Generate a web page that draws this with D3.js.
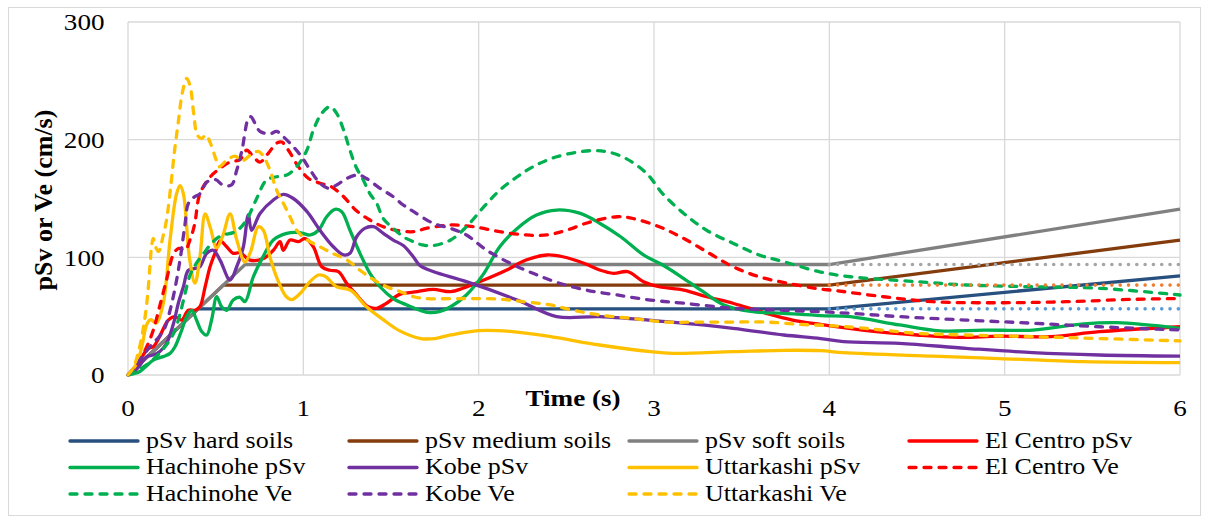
<!DOCTYPE html>
<html>
<head>
<meta charset="utf-8">
<script src="https://cdn.jsdelivr.net/npm/d3@7"></script>
<style>
  html, body { margin: 0; padding: 0; background: #fff; }
  svg { display: block; }
  text { font-family: 'Liberation Serif', 'DejaVu Serif', serif; }
</style>
</head>
<body>
<svg id="chart" width="1210" height="523"></svg>
<script>
// ---- Data: each point is [period T (s), velocity (cm/s)] ----

// Design pseudo-spectral velocity for the three soil classes
const hardSoils   = [[0, 0], [0.4, 56.2], [4, 56.2], [6, 84.3]];
const mediumSoils = [[0, 0], [0.544, 76.4], [4, 76.4], [6, 114.6]];
const softSoils   = [[0, 0], [0.668, 93.9], [4, 93.9], [6, 140.9]];

// Plateau levels continued beyond 4 s
const hardPlateau   = [[4, 56.2], [6, 56.2]];
const mediumPlateau = [[4, 76.4], [6, 76.4]];
const softPlateau   = [[4, 93.9], [6, 93.9]];

const elCentroPsv = [[0,0],[0.04,6],[0.068,12.7],[0.116,22.7],[0.144,24],[0.18,32.6],[0.23,46.7],[0.268,49.6],[0.306,46.7],[0.344,55],[0.382,55],[0.41,58],[0.44,75],[0.468,92],[0.496,103.4],[0.525,114],[0.563,109],[0.6,103.4],[0.639,104],[0.696,97.7],[0.772,99],[0.829,106],[0.867,113.3],[0.886,106],[0.924,114.7],[0.972,113.3],[1.01,116],[1.057,109],[1.105,92],[1.152,89],[1.2,87.8],[1.247,78],[1.304,68],[1.37,58],[1.418,56.7],[1.475,61],[1.55,68.5],[1.65,70.8],[1.74,72.8],[1.84,70.8],[1.91,73.7],[2.03,80.7],[2.16,89.2],[2.27,97.7],[2.39,102],[2.48,100.5],[2.6,95],[2.69,89.2],[2.77,86.4],[2.85,87.8],[2.94,79.3],[3.03,75],[3.17,72.2],[3.3,66.5],[3.45,61],[3.64,52.4],[3.79,46.7],[3.95,43],[4.2,38],[4.5,34],[4.74,32],[4.97,33],[5.26,32.6],[5.54,36.8],[6,41]];

const hachinohePsv = [[0,0],[0.068,3],[0.1,7],[0.144,12.7],[0.2,15.6],[0.24,18.4],[0.268,24],[0.306,38],[0.335,49.6],[0.363,55],[0.39,47],[0.42,37],[0.449,34],[0.477,47],[0.506,66.5],[0.534,58],[0.563,55],[0.6,63.7],[0.639,66],[0.667,62.3],[0.715,83.5],[0.772,101],[0.829,114.7],[0.905,120.4],[0.98,121],[1.04,119],[1.086,123],[1.133,134.5],[1.18,140.8],[1.219,138.8],[1.266,123],[1.323,103.4],[1.38,86.4],[1.437,75],[1.513,65],[1.59,59.5],[1.665,55],[1.72,53],[1.78,54],[1.84,58],[1.93,68],[2.03,86.4],[2.12,109],[2.22,124.6],[2.33,136],[2.445,140.2],[2.58,137.3],[2.69,129],[2.81,117.5],[2.94,102],[3.05,93.5],[3.17,82],[3.28,70.8],[3.4,59.5],[3.55,54],[3.74,52.4],[3.95,50.5],[4.12,49.6],[4.4,42.5],[4.63,37.5],[4.88,38.2],[5.16,38.2],[5.45,43.5],[5.64,44.5],[6,39.7]];

const kobePsv = [[0,0],[0.05,5],[0.107,15.6],[0.144,17],[0.18,19.8],[0.22,27],[0.26,44],[0.287,61],[0.316,75],[0.344,89],[0.382,90.6],[0.41,92],[0.449,103.4],[0.487,106],[0.525,97.7],[0.582,80.7],[0.62,92],[0.658,109],[0.686,136],[0.705,123],[0.753,137.3],[0.829,148.7],[0.886,153.5],[0.943,150],[1.02,139],[1.095,123],[1.171,109],[1.23,102],[1.266,103.4],[1.304,117.5],[1.35,124.6],[1.4,126],[1.456,120.4],[1.513,114.7],[1.57,110],[1.627,100.5],[1.665,93],[1.74,88],[1.93,79.3],[2.22,63.7],[2.445,49.6],[2.69,49.6],[3.07,45.3],[3.45,39.7],[3.74,34],[3.95,31],[4.08,28.3],[4.4,26.9],[4.78,22.7],[5.16,19],[5.54,17],[6,16]];

const uttarkashiPsv = [[0,0],[0.05,10],[0.08,25],[0.107,43],[0.13,47],[0.16,44],[0.2,60],[0.24,115],[0.277,154],[0.297,161],[0.316,154],[0.35,100],[0.382,78],[0.41,100],[0.44,137],[0.47,125],[0.506,108],[0.54,118],[0.582,137],[0.62,115],[0.667,96],[0.7,105],[0.743,126],[0.772,123],[0.81,100],[0.848,83],[0.9,67],[0.934,64],[0.98,69],[1.03,78],[1.086,85],[1.124,84],[1.19,75],[1.27,72],[1.36,58],[1.456,47],[1.55,37.5],[1.67,31],[1.75,31],[1.84,34],[2.0,37.7],[2.18,37],[2.41,32.6],[2.69,25.5],[2.98,19.8],[3.11,18.4],[3.45,19.8],[3.74,21],[3.95,20.7],[4.08,19],[4.59,16],[4.97,14],[5.45,11.3],[6,10.5]];

const elCentroVe = [[0,0],[0.05,8],[0.107,24],[0.144,38],[0.18,58],[0.22,81],[0.26,103],[0.29,107.6],[0.325,106],[0.354,115],[0.38,128],[0.41,154],[0.47,168.5],[0.525,175.6],[0.582,181],[0.639,183],[0.677,191],[0.715,185.5],[0.753,181],[0.8,188.4],[0.848,197],[0.877,198],[0.915,191],[0.972,177],[1.03,167],[1.095,163],[1.16,160],[1.23,151.5],[1.3,140],[1.38,131.7],[1.456,126],[1.53,123],[1.63,121.8],[1.7,124.6],[1.84,127.5],[1.97,126],[2.12,121.8],[2.27,119],[2.39,119],[2.5,123],[2.635,130],[2.79,134.5],[2.88,133],[3.03,126],[3.17,116],[3.32,103],[3.45,92],[3.6,83.5],[3.76,78],[3.95,73],[4.02,72],[4.31,66.5],[4.59,62.3],[4.97,61.4],[5.35,62.3],[5.73,64.3],[6,65]];

const hachinoheVe = [[0,0],[0.08,6],[0.15,14],[0.2,22],[0.24,30],[0.268,38],[0.297,52],[0.325,69],[0.354,85],[0.39,95],[0.43,103],[0.49,114],[0.54,119],[0.6,121],[0.64,125],[0.677,132],[0.73,148.7],[0.79,165.7],[0.848,168.5],[0.905,170],[0.962,177],[1.02,191],[1.057,208],[1.105,222.4],[1.152,228],[1.19,222.4],[1.23,208],[1.266,191],[1.3,177],[1.342,165.7],[1.38,154],[1.418,146],[1.456,133],[1.513,124.6],[1.57,117.5],[1.627,113.3],[1.68,110.5],[1.74,110],[1.84,114.7],[1.93,126],[2.03,143],[2.12,157],[2.22,168.5],[2.31,177],[2.445,185.5],[2.635,190.6],[2.73,189.8],[2.84,184],[2.96,171],[3.05,154],[3.17,137.3],[3.3,123],[3.45,112],[3.6,102],[3.74,96.3],[3.95,87.5],[4.12,83.5],[4.5,79.3],[4.78,76.5],[5.16,75],[5.54,73.7],[6,68]];

const kobeVe = [[0,0],[0.04,7],[0.08,15],[0.125,24],[0.18,33],[0.21,40],[0.24,55],[0.27,75],[0.3,101],[0.325,128],[0.345,146],[0.38,151.5],[0.41,154],[0.45,164],[0.5,166],[0.54,161.5],[0.59,161.5],[0.62,174],[0.65,191],[0.686,218],[0.7,219.5],[0.724,214],[0.753,207],[0.81,205],[0.848,207],[0.886,202.5],[0.943,194],[0.99,185.5],[1.04,174],[1.095,163],[1.142,158.7],[1.19,161.5],[1.247,167],[1.313,170],[1.36,167],[1.437,158.7],[1.513,151.5],[1.57,144.5],[1.627,139],[1.74,129],[1.84,124.6],[1.93,119],[2.046,106],[2.18,95],[2.31,86.4],[2.46,78],[2.62,72],[2.79,68],[2.98,63.7],[3.17,61],[3.45,56.7],[3.74,55],[3.95,53.8],[4.12,52.4],[4.4,49.6],[4.78,46.7],[5.16,44],[5.54,41],[6,38.2]];

const uttarkashiVe = [[0,0],[0.03,6],[0.06,20],[0.09,42],[0.11,65],[0.125,92],[0.135,110],[0.144,116],[0.16,108],[0.175,105],[0.2,118],[0.22,132],[0.245,162],[0.265,190],[0.287,215],[0.31,240],[0.335,252],[0.355,245],[0.375,222],[0.395,204],[0.42,201],[0.445,204],[0.47,197],[0.5,184],[0.52,177],[0.56,182],[0.61,186],[0.65,182],[0.7,187],[0.743,190],[0.772,186],[0.81,174],[0.848,157],[0.886,146],[0.924,134.5],[0.962,123],[1.02,115],[1.095,109],[1.171,103],[1.247,98],[1.323,89],[1.4,81],[1.475,75],[1.55,71],[1.63,66.5],[1.7,65],[1.93,65],[2.12,64.5],[2.27,62],[2.41,59.5],[2.54,55],[2.69,51],[2.88,48],[3.07,45],[3.26,45],[3.45,45],[3.64,45],[3.83,43],[4.0,42],[4.21,39.6],[4.5,35.4],[4.78,34],[5.16,32.6],[5.54,31],[6,29]];

// Axis ticks
const xTicks = [0, 1, 2, 3, 4, 5, 6];
const yTicks = [0, 100, 200, 300];

// Legend labels, in legend order (row by row, four per row)
const legendNames = [
  "pSv hard soils", "pSv medium soils", "pSv soft soils", "El Centro pSv",
  "Hachinohe pSv", "Kobe pSv", "Uttarkashi pSv", "El Centro Ve",
  "Hachinohe Ve", "Kobe Ve", "Uttarkashi Ve"
];

// ---- Series definitions (data + styling) in drawing order ----
const series = [
  { name: "pSv hard soils",   data: hardSoils,    color: "#27507f", type: "solid", smooth: false },
  { name: "pSv medium soils", data: mediumSoils,  color: "#843c0c", type: "solid", smooth: false },
  { name: "pSv soft soils",   data: softSoils,    color: "#808080", type: "solid", smooth: false },
  { name: "El Centro pSv",    data: elCentroPsv,  color: "#ff0000", type: "solid", smooth: true },
  { name: "Hachinohe pSv",    data: hachinohePsv, color: "#00b050", type: "solid", smooth: true },
  { name: "Kobe pSv",         data: kobePsv,      color: "#7030a0", type: "solid", smooth: true },
  { name: "Uttarkashi pSv",   data: uttarkashiPsv,color: "#ffc000", type: "solid", smooth: true },
  { name: "El Centro Ve",     data: elCentroVe,   color: "#ff0000", type: "dash",  smooth: true },
  { name: "Hachinohe Ve",     data: hachinoheVe,  color: "#00b050", type: "dash",  smooth: true },
  { name: "Kobe Ve",          data: kobeVe,       color: "#7030a0", type: "dash",  smooth: true },
  { name: "Uttarkashi Ve",    data: uttarkashiVe, color: "#ffc000", type: "dash",  smooth: true },
  { name: "hard plateau",     data: hardPlateau,  color: "#5b9bd5", type: "dot",   smooth: false },
  { name: "medium plateau",   data: mediumPlateau,color: "#ed7d31", type: "dot",   smooth: false },
  { name: "soft plateau",     data: softPlateau,  color: "#a5a5a5", type: "dot",   smooth: false }
];

// ---- Layout ----
const plot = { left: 128, right: 1180, top: 22, bottom: 375 };
const fontFamily = "'Liberation Serif', 'DejaVu Serif', serif";
const textStretch = 1.13;     // horizontal stretch of the chart lettering
const lineWidth = 3.3;
const dashPattern = "7,8";
const dotPattern = "0.01,8.3";

const svg = d3.select("#chart");

// Outer chart border
svg.append("rect")
  .attr("x", 8.5).attr("y", 7.5)
  .attr("width", 1192).attr("height", 508)
  .attr("fill", "#fff")
  .attr("stroke", "#d9d9d9")
  .attr("stroke-width", 1);

const x = d3.scaleLinear().domain([0, 6]).range([plot.left, plot.right]);
const y = d3.scaleLinear().domain([0, 300]).range([plot.bottom, plot.top]);

// Gridlines
const grid = svg.append("g");
grid.selectAll("line.v").data(xTicks).join("line")
  .attr("x1", d => x(d)).attr("x2", d => x(d))
  .attr("y1", y(300)).attr("y2", y(0))
  .attr("stroke", "#d9d9d9").attr("stroke-width", 1.3);
grid.selectAll("line.h").data(yTicks).join("line")
  .attr("x1", x(0)).attr("x2", x(6))
  .attr("y1", d => y(d)).attr("y2", d => y(d))
  .attr("stroke", "#d9d9d9").attr("stroke-width", 1.3);

// Text helper with the slight horizontal stretch of the lettering
function stretchedText(parent, px, py, str, opts = {}) {
  return parent.append("text")
    .attr("transform", `translate(${px},${py}) scale(${opts.stretch || textStretch},1)`)
    .attr("text-anchor", opts.anchor || "middle")
    .attr("font-family", fontFamily)
    .attr("font-size", opts.size || 23)
    .attr("font-weight", opts.weight || "normal")
    .attr("fill", "#000")
    .text(str);
}

const labels = svg.append("g");
xTicks.forEach(t => stretchedText(labels, x(t), 416, d3.format("d")(t), { size: 24 }));
yTicks.forEach(v => stretchedText(labels, 104.5, y(v) + 8.2, d3.format("d")(v), { size: 24, anchor: "end" }));

// Axis titles
stretchedText(svg, 573, 406, "Time (s)", { size: 24, weight: "bold" });
svg.append("text")
  .attr("transform", `translate(52,200) rotate(-90)`)
  .attr("text-anchor", "middle")
  .attr("font-family", fontFamily)
  .attr("font-size", 26)
  .attr("font-weight", "bold")
  .text("pSv or Ve (cm/s)");

// Lines
const lineLinear = d3.line().x(d => x(d[0])).y(d => y(d[1]));
const lineSmooth = d3.line().x(d => x(d[0])).y(d => y(d[1])).curve(d3.curveCatmullRom.alpha(0.5));

function applyStroke(sel, s) {
  sel.attr("fill", "none")
    .attr("stroke", s.color)
    .attr("stroke-width", lineWidth)
    .attr("stroke-linejoin", "round")
    .attr("stroke-linecap", s.type === "solid" ? "butt" : "round");
  if (s.type === "dash") sel.attr("stroke-dasharray", dashPattern);
  if (s.type === "dot") sel.attr("stroke-dasharray", dotPattern).attr("stroke-width", 3.6);
  return sel;
}

const linesG = svg.append("g");
series.forEach(s => {
  const p = linesG.append("path").attr("d", (s.smooth ? lineSmooth : lineLinear)(s.data));
  applyStroke(p, s);
});

// Legend: four columns, three rows
const legendCols = [70, 349, 629, 909];
const legendRows = [441, 467.5, 494];
const legendSwatch = 68;
const legendG = svg.append("g");
legendNames.forEach((name, i) => {
  const s = series.find(d => d.name === name);
  const cx = legendCols[i % 4];
  const cy = legendRows[Math.floor(i / 4)];
  const ln = legendG.append("line")
    .attr("x1", cx).attr("x2", cx + legendSwatch)
    .attr("y1", cy).attr("y2", cy);
  applyStroke(ln, s);
  if (s.type === "solid") ln.attr("stroke-linecap", "round");
  stretchedText(legendG, cx + 76, cy + 6.5, name, { size: 23, anchor: "start" });
});
</script>
</body>
</html>
